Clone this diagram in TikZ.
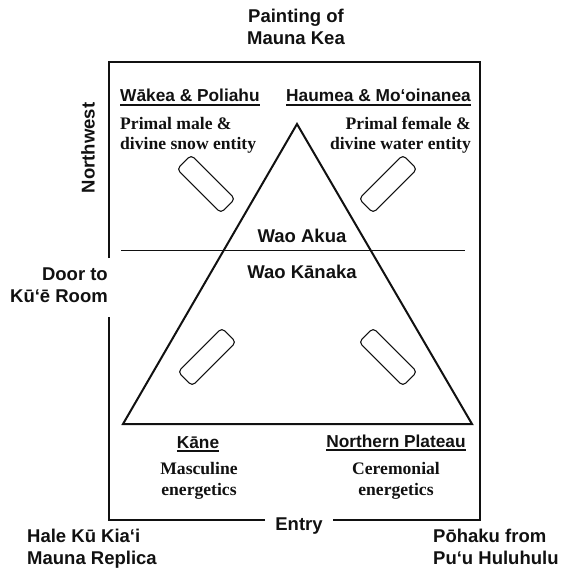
\documentclass[tikz,border=0pt]{standalone}
\usepackage{fontspec}
\setmainfont{Liberation Serif}
\setsansfont{Liberation Sans}
\usepackage{xcolor}
\definecolor{ink}{HTML}{111111}

% underlined heading text
\newcommand\ulabel[1]{\setbox0=\hbox{#1}\rlap{\vrule height -2.4pt depth 4pt width \wd0}\box0}

\tikzset{
  place/.style={font=\sffamily\bfseries\fontsize{18.5}{22}\selectfont, inner sep=0pt, align=center},
  deity/.style={font=\sffamily\bfseries\fontsize{17.3}{21}\selectfont, inner sep=0pt},
  gloss/.style={font=\bfseries\fontsize{17.6}{20.7}\selectfont, inner sep=0pt},
  stone/.style={draw=ink, line width=1.1pt, rounded corners=4pt, minimum width=62pt, minimum height=20pt, inner sep=0pt},
  wall/.style={draw=ink, line width=2pt}
}

\begin{document}
\begin{tikzpicture}[x=1pt,y=-1pt,ink]
  \useasboundingbox (0,0) rectangle (562,569);

  % room walls, open for the door and the entry
  \coordinate (nw) at (109,62);
  \coordinate (ne) at (480,62);
  \coordinate (se) at (480,520);
  \coordinate (sw) at (109,520);
  \draw[wall] (109,258) -- (nw) -- (ne) -- (se) -- (333,520);
  \draw[wall] (265,520) -- (sw) -- (109,317);

  % mountain triangle and the divide between the realms
  \coordinate (apex) at (297,124);
  \coordinate (bl) at (123,424);
  \coordinate (br) at (472,424);
  \draw[wall, line join=miter] (apex) -- (br) -- (bl) -- cycle;
  \draw[line width=1pt] (121,250) -- (465,250);

  % stones
  \foreach \x/\y/\a [count=\i] in {206/184/-45, 388/184/45, 207/357/45, 388/357/-45} {
    \node[stone, rotate=\a] (stone\i) at (\x,\y) {};
  }

  % multi-line texts sit on the baseline of their last line
  \node[place, anchor=base] (painting) at (296,45) {Painting of\\Mauna Kea};
  \node[deity, anchor=base west] (wakea) at (120,102) {\ulabel{Wākea \& Poliahu}};
  \node[deity, anchor=base east] (haumea) at (471,102) {\ulabel{Haumea \& Mo‘oinanea}};
  \node[gloss, anchor=base west, align=left] (wakeanote) at (120,150) {Primal male \&\\divine snow entity};
  \node[gloss, anchor=base east, align=right] (haumeanote) at (471,150) {Primal female \&\\divine water entity};

  \node[place, anchor=base] (akua) at (302,242) {Wao Akua};
  \node[place, anchor=base] (kanaka) at (302,278) {Wao Kānaka};

  \node[place, anchor=base east, align=right] (door) at (108,302) {Door to\\Kū‘ē Room};
  \node[place, rotate=90] (northwest) at (88,148) {Northwest};

  \node[deity, anchor=base] (kane) at (198,448) {\ulabel{Kāne}};
  \node[gloss, anchor=base, align=center] (kanenote) at (199,495) {Masculine\\energetics};
  \node[deity, anchor=base] (plateau) at (396,447) {\ulabel{Northern Plateau}};
  \node[gloss, anchor=base, align=center] (plateaunote) at (396,495) {Ceremonial\\energetics};

  \node[place, anchor=base] (entry) at (299,530) {Entry};
  \node[place, anchor=base west, align=left] (hale) at (27,564) {Hale Kū Kia‘i\\Mauna Replica};
  \node[place, anchor=base west, align=left] (pohaku) at (433,564) {Pōhaku from\\Pu‘u Huluhulu};
\end{tikzpicture}
\end{document}
